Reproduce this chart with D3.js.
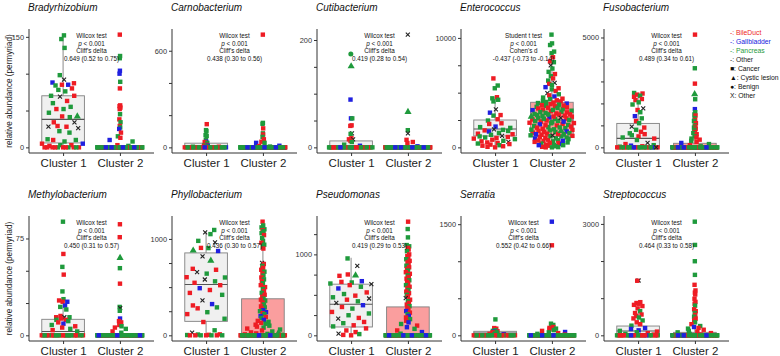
<!DOCTYPE html>
<html><head><meta charset="utf-8">
<script src="https://cdn.jsdelivr.net/npm/d3@7"></script>
<style>body{margin:0;background:#fff} text{font-family:"Liberation Sans",Arial,sans-serif}</style>
</head><body><svg id="c" width="780" height="356"></svg>
<script>
const taxa = ["Bradyrhizobium","Carnobacterium","Cutibacterium","Enterococcus","Fusobacterium",
  "Methylobacterium","Phyllobacterium","Pseudomonas","Serratia","Streptococcus"];
const clusters = ["Cluster 1","Cluster 2"];
const testNames = ["Wilcox test","Wilcox test","Wilcox test","Student t test","Wilcox test",
  "Wilcox test","Wilcox test","Wilcox test","Wilcox test","Wilcox test"];
const pValues = ["< 0.001","< 0.001","< 0.001","< 0.001","< 0.001","< 0.001","< 0.001","< 0.001","< 0.001","< 0.001"];
const effectNames = ["Cliff's delta","Cliff's delta","Cliff's delta","Cohen's d","Cliff's delta",
  "Cliff's delta","Cliff's delta","Cliff's delta","Cliff's delta","Cliff's delta"];
const effects = ["0.649 (0.52 to 0.75)","0.438 (0.30 to 0.56)","0.419 (0.28 to 0.54)","-0.437 (-0.73 to -0.14)","0.489 (0.34 to 0.61)",
  "0.450 (0.31 to 0.57)","0.436 (0.30 to 0.57)","0.419 (0.29 to 0.53)","0.552 (0.42 to 0.66)","0.464 (0.33 to 0.58)"];
const tickSteps = [50,200,50,2500,1000,25,250,250,500,1000];
const tickLabelled = [[0,150],[0,600],[0,200],[0,10000],[0,5000],[0,75],[0,1000],[0,1000],[0,1500],[0,3000]];
// box stats: [lower whisker, q1, median, q3, upper whisker]
const boxC1 = [[0,6,38,70,152],[0,0,4,26,60],[0,0,0,12,30],[0,1040,1680,2500,4580],[0,20,410,1090,2475],
  [0,0,3,12.4,24],[0,145,527,855,1075],[0,103,384,632,958],[0,9,30,54,120],[0,0,116,250,600]];
const boxC2 = [[0,0,0,0,0],[0,0,0,3,8],[0,0,0,0,0],[0,980,2500,4120,7800],[0,0,0,185,450],
  [0,0,0,0,0],[0,0,5,379,1103],[0,0,0,351,877],[0,0,0,5,10],[0,0,0,80,200]];
// points: site letter (r BileDuct, b Gallbladder, g Pancreas, k Other) + shape (none square, t triangle, c circle, x cross) + value [*count]
const pointsC1 = [
"g152 g147 g135 g98 kx92 b88 r87 b85 g84 r85 r80 g78 g76 r70 kx69 g70 r63 g60 g52 r52 g55 g47 r42 gt42 g41 kx34 r34 r29 kx28 kx26 r28 g20 g22 g11 r10 g10 g8 r3 r2 g3 r0*4 g0*2 r0*4 g0*1 b5 r5",
"r144 g107 g100 g76 g70 g46 b35 r33 r25 g28 r15 g12 b10 r8 g6 r4 g4 r0*7 g0*7 b0 r0*7 g0*7 b0",
"gc174 gt151 b89 b54 g54 r41 r40 kx26 g25 r17 kx15 r15 r12 g10 b3 g5 r0*8 g0*8 b0 r0*8 g0*8 b0",
"r6300 g5650 g5400 r4580 g4480 g4350 g4200 kx3480 b3170 r2950 g2900 r2570 g2450 r2140 r2200 b1900 g1850 g1780 kx1650 g1600 r1550 g1500 b1450 g1320 r1250 r1200 g1150 kx1040 g1000 r950 g900 r850 r800 g750 r700 g600 r550 kx500 r450 r400 g350 r300 r250 g200 r150 r100 r50 r0",
"g2475 r2450 r2400 g2350 r2300 r2200 r2150 g2050 g1950 kx1770 r1700 g1600 b1420 g1320 r1200 g1100 kx940 r900 g800 r710 g640 r600 g550 r500 g450 r400 g335 kx200 r150 g100 b77 r50 g30 r0*5 g0*5 b0 r0*5 g0*5 b0 kx0",
"g88 r63 g53 r47 g34 g28 r27 r26 b26 b23 g22 g20 r15 g14 r14 kx14 r13 g12 r12 g11 r10 b9 g8 r7 r6 g5 r4 g3 r0*7 g0*6 r0*7 g0*6",
"g1093 kx1068 g1050 kx965 g980 b875 gt880 r907 g905 kx820 gt775 r690 r680 kx655 g640 kx579 r603 r545 g560 g600 r520 b489 r470 r440 g420 kx362 b324 r310 g290 r280 g240 r220 g172 r138 g52 kx28 r10 g8 r5 g3 r0*4 g0*3",
"g950 kx859 r752 r735 gt740 b669 r660 g653 g640 kx632 r620 g600 b579 r530 g510 r490 g470 kx455 r440 g420 kx400 b372 r350 g330 r289 g270 g248 kx207 r215 r165 g150 r124 g110 r85 r60 r40 kx20 g15 r0 r5",
"g215 r98 r90 r80 g70 g60 r55 b50 g45 r40 g35 r30 g25 r20 b15 g10 r5 r0*7 g0*7 r0*7 g0*7",
"kx1476 r1470 r893 r870 r850 r820 r787 r725 g650 r600 r560 r520 g480 r456 g400 r350 r300 g260 b196 b170 b134 g120 r100 g80 r60 g40 r20 g0*6 r0*6 b0 g0*6 r0*6 b0"
];
const pointsC2 = [
"r153 g124 g121 b104 b100 g89 r80 r57 r56 r54 r52 g45 r38 g34 r29 g27 b25 r20 g15 r13 b10 g8 r3 g2 r0*15 g0*16 b0*4 r0*15 g0*16 b0*4 r0*15 g0*16 b0*4 r0*15 g0*16 b0*4",
"r700 g152 g146 r118 g87 r80 g65 r50 r35 b28 g28 b10 r8 g5 r0*16 g0*17 b0*4 r0*16 g0*17 b0*4 r0*16 g0*17 b0*4 r0*16 g0*17 b0*4",
"kx210 gt66 g32 kx26 r14 r10 r8 b2 r0*17 g0*18 b0*4 r0*17 g0*18 b0*4 r0*17 g0*18 b0*4 r0*17 g0*18 b0*4",
"g10300 g9500 g9350 g8750 g8600 r8230 r7850 g7780 kx7500 g7200 g6900 r6700 g6500 r6300 g6100 kx5900 r5800 g5700 b5500 r5400 g5300 r5150 kx4950 g4850 r4750 b4650 g4550 r4450 g4400 r4300 g4250 r4200 g4150 r4100 g4050 b4000 r3950 g3900 r3850 g3800 r3750 g3700 r3650 g3600 r3550 g3500 r3450 b3400 g3350 r3300 g3250 r3200 g3150 r3100 g3050 r3000 g2950 r2900 g2850 r2800 b2750 g2700 r2650 g2600 r2550 g2500 r2450 g2400 r2350 g2300 r2250 g2200 r2150 b2100 g2050 r2000 g1950 r1900 g1850 r1800 g1750 r1700 g1650 r1600 g1550 r1500 b1450 g1400 r1350 g1300 r1250 g1200 r1150 g1100 r1050 g1000 r950 g900 r850 b800 g750 r700 g650 r600 g550 r500 g450 r400 g350 b300 r250 g200 r150 g100 r50 g0 r0 r3820 g3420 r3020 g2620 r2220 g1820 r1420 g1020 r620 g220 r3620 g3220 r2820 g2420 r2020 g1620 r1220 g820 r420 g20 gt2800 gt1500 gc3000 kx2700 kx1100 b2350 b1200 b600 b200",
"r5130 g3600 r2900 gt2420 g2190 b1740 g1600 g1500 r1450 g1330 r1250 g1200 r1100 g1000 r950 g900 r850 g800 r700 g650 r600 g500 r450 g400 r350 g300 r250 b200 g150 r100 g50 r0*15 g0*15 b0*3 r0*15 g0*15 b0*3 r0*15 g0*15 b0*3 r0*15 g0*15 b0*3",
"r86 r76 gt60 g52 r40 g22 kx21 g19 b13 r11 r10 r8 g7 r6 g5 r3 g2 r0*16 g0*17 b0*3 r0*16 g0*17 b0*3 r0*16 g0*17 b0*3 r0*16 g0*17 b0*3",
"r1179 g1140 g1120 g1100 r1090 g1080 g1060 r1040 g1010 g980 r960 g940 g920 r900 kx752 r740 g720 r700 r680 g660 r640 g620 r600 g580 r560 g540 r520 r500 g480 r460 g440 r420 r400 g380 r370 g360 r340 g320 r300 g290 r280 b260 g250 b240 r230 g220 b200 r190 g180 b160 r150 g140 r130 g120 r110 g100 r90 g80 r70 g60 r50 g40 r30 gt25 r20 g15 r10 g5 r0*13 g0*13 b0*3 r0*13 g0*13 b0*3 r0*13 g0*13 b0*2",
"r1404 g1313 g1210 g1115 g1100 r1080 r1060 g1040 r1000 r980 r960 g940 r920 r900 r880 g860 r840 r820 g800 r780 r760 g740 r720 r700 g680 r660 r640 g620 r600 r580 g560 r540 r520 g500 r480 kx460 r440 g420 r400 r380 g360 r340 r320 b300 r280 g260 b240 r220 g200 r180 b160 g140 r120 b100 g80 r60 b40 g20 r0*15 g0*17 b0*3 r0*15 g0*17 b0*3 r0*15 g0*16 b0*4",
"b1534 r1215 g157 g140 g120 r112 r100 g90 r80 g70 r60 b45 g40 r30 g20 r10 r0*16 g0*18 b0*3 r0*16 g0*18 b0*3 r0*16 g0*17 b0*3 r0*16 g0*17 b0*3",
"g3060 g2434 g1995 g1628 r1360 r1208 r1150 r1100 r985 r900 r850 g800 r700 r650 g600 r550 g500 r450 r400 g350 r300 g250 b223 r200 g180 r150 g120 r100 g80 r60 g40 r20 r0*15 g0*15 b0*3 r0*15 g0*15 b0*3 r0*15 g0*15 b0*3 r0*15 g0*15 b0*3"
];
const siteLegend = ["BileDuct","Gallbladder","Pancreas","Other"];
const diagLegend = ["Cancer","Cystic lesion","Benign","Other"];

const siteColor = {r:"#ee1c24", b:"#2020e0", g:"#1f9a3c", k:"#222222"};
const svg = d3.select("#c");
const colX = [29,172,317,461,604], rowTop = [29,216], rowBot = [153,341], plotW = 125;

function parsePts(s){
  const out=[];
  s.trim().split(/\s+/).forEach(tok=>{
    const m=tok.match(/^([rbgk])([tcx]?)(-?[\d.]+)(?:\*(\d+))?$/);
    const n=m[4]?+m[4]:1;
    for(let j=0;j<n;j++) out.push({site:m[1], shape:m[2]||"s", v:+m[3]});
  });
  return out;
}
function vdc(i){let r=0,f=0.5;while(i>0){r+=f*(i%2);i=Math.floor(i/2);f/=2;}return r;}
function quasi(vals){
  const n=vals.length; if(n<2) return vals.map(()=>0);
  const sorted=vals.slice().sort((a,b)=>a-b);
  const sd=d3.deviation(vals);
  const iqr=d3.quantile(sorted,0.75)-d3.quantile(sorted,0.25);
  let lo=Math.min(sd,iqr/1.34); if(!lo) lo=sd||1;
  const bw=0.9*lo*Math.pow(n,-0.2);
  const d=vals.map(v=>d3.sum(vals,x=>Math.exp(-0.5*((v-x)/bw)**2)));
  const mx=d3.max(d);
  const idx=d3.range(n).sort((a,b)=>vals[a]-vals[b]||a-b);
  const rank=new Array(n); idx.forEach((k,r)=>rank[k]=r+1);
  return vals.map((v,k)=>(vdc(rank[k])-0.5)*2*d[k]/mx);
}

taxa.forEach((name,i)=>{
  const row=Math.floor(i/5), col=i%5;
  const x0=colX[col], top=rowTop[row], bot=rowBot[row];
  const g=svg.append("g");
  const p1=parsePts(pointsC1[i]), p2=parsePts(pointsC2[i]);
  const M=d3.max([d3.max(p1,d=>d.v),d3.max(p2,d=>d.v),boxC1[i][4],boxC2[i][4]]);
  const y=d3.scaleLinear().domain([-0.05*M,1.05*M]).range([bot,top]);
  const x=d3.scalePoint().domain(clusters).range([x0,x0+plotW]).padding(0.6);
  const step=x.step();
  [boxC1[i],boxC2[i]].forEach((b,c)=>{
    const cx=x(clusters[c]), hw=0.375*step;
    g.append("line").attr("x1",cx).attr("x2",cx).attr("y1",y(b[3])).attr("y2",y(b[4])).attr("stroke","#8a8a8a").attr("stroke-width",1);
    g.append("line").attr("x1",cx).attr("x2",cx).attr("y1",y(b[1])).attr("y2",y(b[0])).attr("stroke","#8a8a8a").attr("stroke-width",1);
    g.append("rect").attr("x",cx-hw).attr("width",2*hw).attr("y",y(b[3])).attr("height",Math.max(0,y(b[1])-y(b[3])))
      .attr("fill",c===0?"#f0f0f0":"#fa9e9e").attr("stroke","#808080").attr("stroke-width",0.9);
    g.append("line").attr("x1",cx-hw).attr("x2",cx+hw).attr("y1",y(b[2])).attr("y2",y(b[2])).attr("stroke","#555").attr("stroke-width",1.1);
  });
  [p1,p2].forEach((pts,c)=>{
    const offs=quasi(pts.map(d=>d.v));
    pts.forEach((d,k)=>{
      const px=x(clusters[c])+offs[k]*0.4*step, py=y(d.v), col=siteColor[d.site];
      if(d.shape==="s") g.append("rect").attr("x",px-2.2).attr("y",py-2.2).attr("width",4.4).attr("height",4.4).attr("fill",col);
      else if(d.shape==="t") g.append("path").attr("d",d3.symbol(d3.symbolTriangle,22)()).attr("transform",`translate(${px},${py})`).attr("fill",col);
      else if(d.shape==="c") g.append("circle").attr("cx",px).attr("cy",py).attr("r",2.5).attr("fill",col);
      else g.append("path").attr("d",`M${px-2},${py-2}L${px+2},${py+2}M${px-2},${py+2}L${px+2},${py-2}`).attr("stroke",col).attr("stroke-width",1.1);
    });
  });
  const ticks=d3.range(0,1.05*M+1e-9,tickSteps[i]);
  const ya=g.append("g").attr("transform",`translate(${x0},0)`)
    .call(d3.axisLeft(y).tickValues(ticks).tickSize(3).tickPadding(2).tickSizeOuter(0)
      .tickFormat(v=>tickLabelled[i].includes(v)?String(v):""));
  ya.select(".domain").attr("d",`M0,${top}V${bot}`).attr("stroke","#333");
  ya.selectAll(".tick line").attr("stroke","#333");
  ya.selectAll("text").attr("font-size",7.4).attr("fill","#333").attr("font-family","Liberation Sans, Arial, sans-serif");
  const xa=g.append("g").attr("transform",`translate(0,${bot})`)
    .call(d3.axisBottom(x).tickSize(3).tickPadding(3).tickSizeOuter(0));
  xa.select(".domain").attr("d",`M${x0},0H${x0+plotW}`).attr("stroke","#333");
  xa.selectAll(".tick line").attr("stroke","#333");
  xa.selectAll("text").attr("font-size",11.5).attr("fill","#222").attr("font-family","Liberation Sans, Arial, sans-serif");
  g.append("text").attr("x",x0-1).attr("y",top-18.5).attr("font-size",10).attr("font-style","italic").attr("fill","#111").text(name);
  const cx=x0+plotW/2, sy=top+8.8, lh=7.7;
  const st=g.append("g").attr("font-size",6.3).attr("fill","#111").attr("text-anchor","middle");
  st.append("text").attr("x",cx).attr("y",sy).text(testNames[i]);
  const pt=st.append("text").attr("x",cx).attr("y",sy+lh);
  pt.append("tspan").attr("font-style","italic").text("p");
  pt.append("tspan").text(" "+pValues[i]);
  st.append("text").attr("x",cx).attr("y",sy+2*lh).text(effectNames[i]);
  st.append("text").attr("x",cx).attr("y",sy+3*lh).text(effects[i]);
});
[0,1].forEach(r=>{
  const cy=(rowTop[r]+rowBot[r])/2;
  svg.append("text").attr("transform",`translate(12,${cy}) rotate(-90)`).attr("text-anchor","middle")
    .attr("font-size",8.2).attr("fill","#222").text("relative abundance (permyriad)");
});
const lg=svg.append("g").attr("font-size",6.8);
const siteKeys=["r","b","g","k"];
siteLegend.forEach((s,k)=>{
  lg.append("text").attr("x",730).attr("y",35+k*9).attr("fill",siteColor[siteKeys[k]]).text("-: "+s);
});
const shapeSyms=["\u25A0","\u25B2","\u25CF","X"];
diagLegend.forEach((s,k)=>{
  lg.append("text").attr("x",730).attr("y",71+k*9).attr("fill","#111").text(shapeSyms[k]+": "+s);
});
</script></body></html>
